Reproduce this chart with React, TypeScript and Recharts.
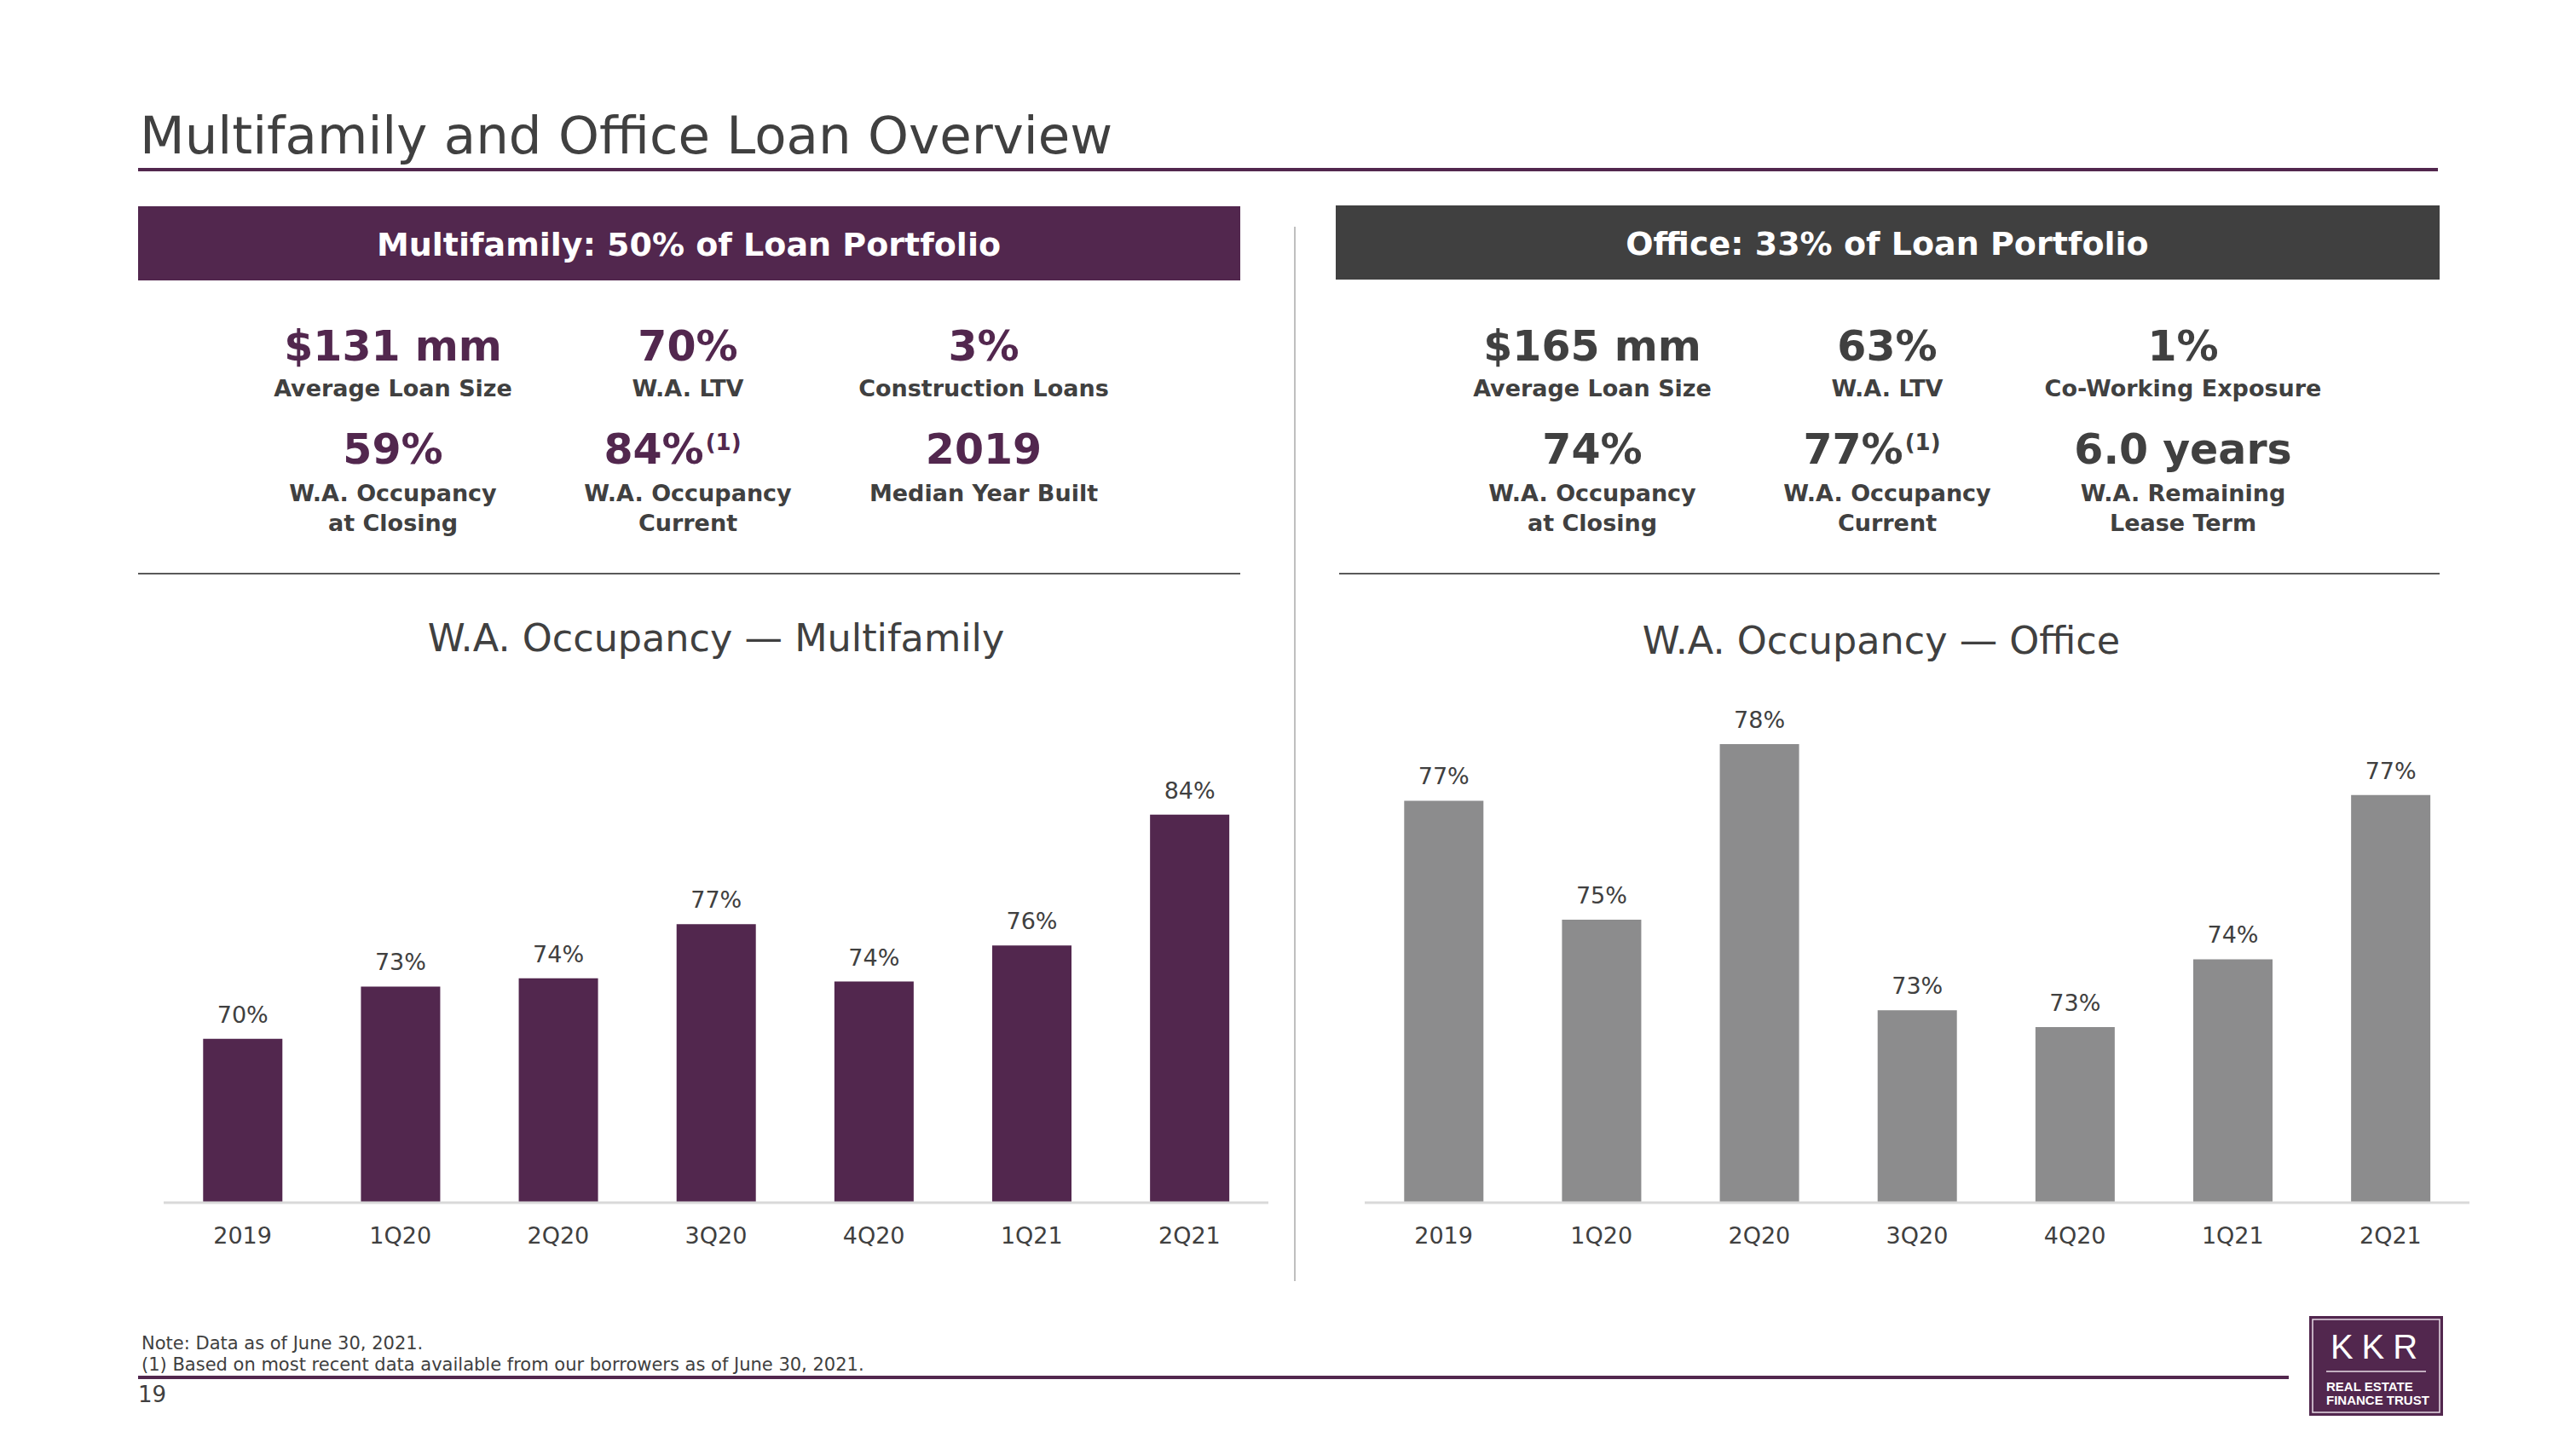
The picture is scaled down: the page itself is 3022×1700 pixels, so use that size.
import React from 'react';
import { BarChart, Bar, XAxis, YAxis, LabelList } from 'recharts';

const categories = ['2019', '1Q20', '2Q20', '3Q20', '4Q20', '1Q21', '2Q21'];
const multifamilyOccupancy = [70.0, 73.2, 73.7, 77.0, 73.5, 75.7, 83.7];
const officeOccupancy = [77.1, 75.0, 78.1, 73.4, 73.1, 74.3, 77.2];

const multifamilyValues = ['$131 mm', '70%', '3%', '59%', '84%', '2019'];
const multifamilyLabels = [['Average Loan Size'], ['W.A. LTV'], ['Construction Loans'], ['W.A. Occupancy', 'at Closing'], ['W.A. Occupancy', 'Current'], ['Median Year Built']];
const officeValues = ['$165 mm', '63%', '1%', '74%', '77%', '6.0 years'];
const officeLabels = [['Average Loan Size'], ['W.A. LTV'], ['Co-Working Exposure'], ['W.A. Occupancy', 'at Closing'], ['W.A. Occupancy', 'Current'], ['W.A. Remaining', 'Lease Term']];
const footnotes = ['Note: Data as of June 30, 2021.', '(1) Based on most recent data available from our borrowers as of June 30, 2021.'];

const PURPLE = '#52274e';
const DARK = '#404040';
const GRAY_BAR = '#8c8c8d';
const FONT = 'Verdana, "DejaVu Sans", sans-serif';
const LOGO_FONT = "Arial, 'Liberation Sans', sans-serif";

const mfData = categories.map((c, i) => ({ cat: c, value: multifamilyOccupancy[i] }));
const officeData = categories.map((c, i) => ({ cat: c, value: officeOccupancy[i] }));

function StatBlock({ values, labels, centers, color }: { values: string[]; labels: string[][]; centers: number[]; color: string }) {
  return (
    <g fontFamily={FONT} fontWeight="bold" textAnchor="middle">
      {values.map((v, i) => {
        const row = Math.floor(i / 3);
        const x = centers[i % 3];
        const vy = row === 0 ? 423 : 544;
        const ly = row === 0 ? 465 : 588;
        // the current-occupancy figure carries the footnote mark
        const sup = row === 1 && i % 3 === 1;
        return (
          <g key={i}>
            <text x={sup ? x - 18 : x} y={vy} fontSize={49} fill={color}>
              {v}
              {sup && (
                <tspan fontSize={26} dy={-16} dx={2}>(1)</tspan>
              )}
            </text>
            {labels[i].map((l, j) => (
              <text key={j} x={x} y={ly + j * 35} fontSize={27} fill={DARK}>{l}</text>
            ))}
          </g>
        );
      })}
    </g>
  );
}

function OccupancyChart({ data, color, domain, left }: { data: { cat: string; value: number }[]; color: string; domain: [number, number]; left: number }) {
  return (
    <div style={{ position: 'absolute', left, top: 800 }}>
      <BarChart width={1296} height={691} data={data} margin={{ top: 0, right: 0, bottom: 0, left: 0 }} barCategoryGap="25%">
        <XAxis
          dataKey="cat"
          height={80}
          axisLine={{ stroke: '#d9d9d9', strokeWidth: 3 }}
          tickLine={false}
          tickSize={6}
          tickMargin={23}
          tick={{ fill: DARK, fontSize: 27, fontFamily: FONT }}
        />
        <YAxis hide domain={domain} allowDataOverflow />
        <Bar dataKey="value" fill={color} isAnimationActive={false}>
          <LabelList
            dataKey="value"
            position="top"
            offset={19}
            formatter={(v: any) => `${Math.round(Number(v))}%`}
            style={{ fill: DARK, fontSize: 27, fontFamily: FONT }}
          />
        </Bar>
      </BarChart>
    </div>
  );
}

export default function App() {
  return (
    <div style={{ position: 'absolute', left: 0, top: 0, width: 3022, height: 1700, background: '#fff', overflow: 'hidden' }}>
      <svg width={3022} height={1700} style={{ position: 'absolute', left: 0, top: 0 }}>
        <text x={164} y={180} fontFamily={FONT} fontSize={61} fill={DARK}>Multifamily and Office Loan Overview</text>
        <rect x={162} y={197} width={2698} height={4} fill={PURPLE} />

        <rect x={162} y={242} width={1293} height={87} fill={PURPLE} />
        <text x={808} y={300} textAnchor="middle" fontFamily={FONT} fontWeight="bold" fontSize={38} fill="#fff">Multifamily: 50% of Loan Portfolio</text>
        <rect x={1567} y={241} width={1295} height={87} fill={DARK} />
        <text x={2214} y={299} textAnchor="middle" fontFamily={FONT} fontWeight="bold" fontSize={38} fill="#fff">Office: 33% of Loan Portfolio</text>

        <line x1={1519} y1={266} x2={1519} y2={1503} stroke="#bfbfbf" strokeWidth={2} />

        <StatBlock values={multifamilyValues} labels={multifamilyLabels} centers={[461, 807, 1154]} color={PURPLE} />
        <StatBlock values={officeValues} labels={officeLabels} centers={[1868, 2214, 2561]} color={DARK} />

        <line x1={162} y1={673} x2={1455} y2={673} stroke="#595959" strokeWidth={2} />
        <line x1={1571} y1={673} x2={2862} y2={673} stroke="#595959" strokeWidth={2} />

        <text x={840} y={764} textAnchor="middle" fontFamily={FONT} fontSize={44.5} fill={DARK}>W.A. Occupancy — Multifamily</text>
        <text x={2207} y={767} textAnchor="middle" fontFamily={FONT} fontSize={44.5} fill={DARK}>W.A. Occupancy — Office</text>

        {footnotes.map((f, i) => (
          <text key={i} x={166} y={1583 + i * 25} fontFamily={FONT} fontSize={21} fill={DARK}>{f}</text>
        ))}
        <rect x={162} y={1614} width={2523} height={4} fill={PURPLE} />
        <text x={162} y={1645} fontFamily={FONT} fontSize={26} fill={DARK}>19</text>

        <rect x={2709} y={1544} width={157} height={117} fill={PURPLE} />
        <rect x={2713} y={1548} width={149} height={109} fill="none" stroke="#e8dce6" strokeWidth={1.5} />
        <text x={2790} y={1594} textAnchor="middle" fontFamily={LOGO_FONT} fontSize={40} letterSpacing={10} fill="#fff">KKR</text>
        <line x1={2729} y1={1609} x2={2846} y2={1609} stroke="#e8dce6" strokeWidth={1.5} />
        <text x={2729} y={1632} fontFamily={LOGO_FONT} fontWeight="bold" fontSize={15} fill="#fff">REAL ESTATE</text>
        <text x={2729} y={1648} fontFamily={LOGO_FONT} fontWeight="bold" fontSize={15} fill="#fff">FINANCE TRUST</text>
      </svg>

      <OccupancyChart data={mfData} color={PURPLE} domain={[60, 91.8]} left={192} />
      <OccupancyChart data={officeData} color={GRAY_BAR} domain={[70, 79.2]} left={1601} />
    </div>
  );
}
